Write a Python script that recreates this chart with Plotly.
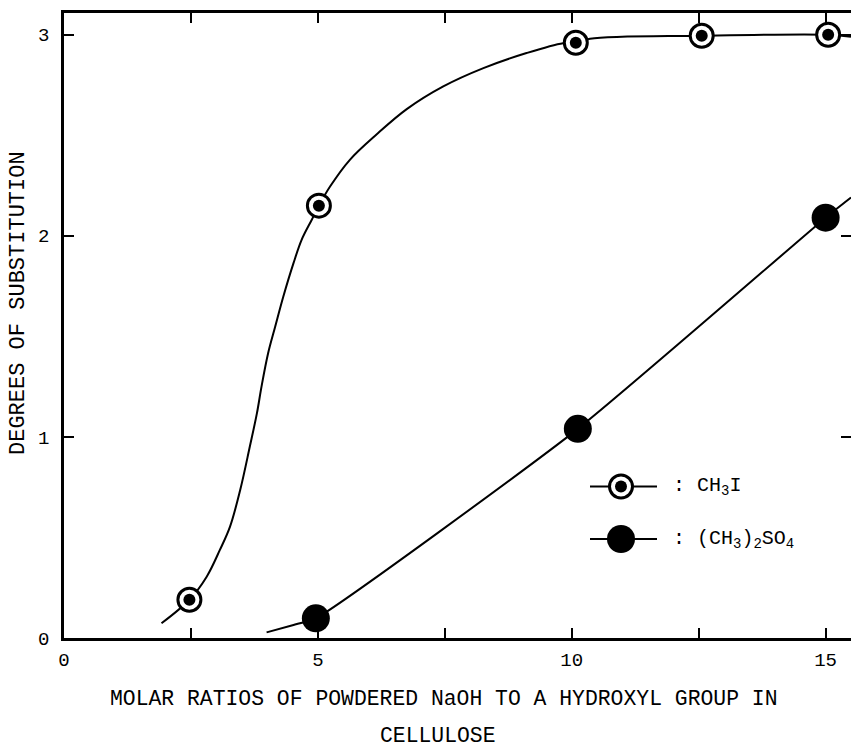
import plotly.graph_objects as go

# ---- data ----
# CH3I measured points
ch3i_ratio = [2.47, 5.02, 10.08, 12.56, 15.05]
ch3i_ds = [0.19, 2.15, 2.96, 2.995, 3.0]
# hand-drawn CH3I curve
ch3i_curve_x = [1.92, 2.47, 2.81, 3.07, 3.27, 3.47, 3.66, 3.80, 3.89, 4.02, 4.16, 4.32, 4.52,
                4.68, 4.88, 5.02, 5.24, 5.63, 6.16, 6.75, 7.47, 8.26, 9.11, 9.83, 10.08,
                10.36, 12.56, 15.05, 15.5]
ch3i_curve_y = [0.073, 0.19, 0.305, 0.438, 0.554, 0.736, 0.952, 1.118, 1.25, 1.416, 1.549, 1.698,
                1.864, 1.98, 2.08, 2.15, 2.245, 2.378, 2.505, 2.63, 2.743, 2.834, 2.909, 2.958,
                2.96, 2.98, 2.995, 3.0, 2.99]

# (CH3)2SO4 measured points
dms_ratio = [4.96, 10.12, 15.0]
dms_ds = [0.098, 1.04, 2.09]
# drawn (CH3)2SO4 line
dms_curve_x = [3.99, 4.52, 4.96, 10.12, 15.0, 15.5]
dms_curve_y = [0.028, 0.065, 0.098, 1.04, 2.09, 2.19]

x_tickvals = [0, 5, 10, 15]
x_ticktext = ["0", "5", "10", "15"]
x_minor_ticks = [2.5, 7.5, 12.5]
y_tickvals = [0, 1, 2, 3]
y_ticktext = ["0", "1", "2", "3"]

FONT = "Liberation Mono, Courier New, monospace"

fig = go.Figure()

fig.add_trace(go.Scatter(x=ch3i_curve_x, y=ch3i_curve_y, mode="lines",
                         line=dict(color="black", width=2, shape="spline", smoothing=1.0),
                         showlegend=False, hoverinfo="skip"))
fig.add_trace(go.Scatter(x=dms_curve_x, y=dms_curve_y, mode="lines",
                         line=dict(color="black", width=2, shape="spline", smoothing=0.5),
                         showlegend=False, hoverinfo="skip"))
# CH3I markers: white ring with black centre dot
fig.add_trace(go.Scatter(x=ch3i_ratio, y=ch3i_ds, mode="markers",
                         marker=dict(symbol="circle", size=23, color="white",
                                     line=dict(color="black", width=3)),
                         showlegend=False, name="CH3I"))
fig.add_trace(go.Scatter(x=ch3i_ratio, y=ch3i_ds, mode="markers",
                         marker=dict(symbol="circle", size=12, color="black"),
                         showlegend=False, hoverinfo="skip"))
# (CH3)2SO4 markers: filled
fig.add_trace(go.Scatter(x=dms_ratio, y=dms_ds, mode="markers",
                         marker=dict(symbol="circle", size=28, color="black"),
                         showlegend=False, name="(CH3)2SO4"))
# invisible trace for the right-hand tick axis
fig.add_trace(go.Scatter(x=[0], y=[0], yaxis="y2", mode="markers",
                         marker=dict(size=1, color="rgba(0,0,0,0)"),
                         showlegend=False, hoverinfo="skip"))

L, R, T, B = 64, 0, 13, 112
W, H = 851, 750
pw, ph = W - L - R, H - T - B

def px2paper(px, py):
    return (px - L) / pw, (H - B - py) / ph

shapes = []
annotations = []
# legend key (built by hand)
for py, kind in [(486.5, "ring"), (539, "filled")]:
    x0p, yp = px2paper(590, py)
    x1p, _ = px2paper(657, py)
    xc, _ = px2paper(621, py)
    shapes.append(dict(type="line", xref="paper", yref="paper", x0=x0p, x1=x1p, y0=yp, y1=yp,
                       line=dict(color="black", width=2), layer="above"))
    if kind == "ring":
        shapes.append(dict(type="circle", xref="paper", yref="paper", xsizemode="pixel",
                           ysizemode="pixel", xanchor=xc, yanchor=yp, x0=-11.5, x1=11.5,
                           y0=-11.5, y1=11.5, fillcolor="white",
                           line=dict(color="black", width=3), layer="above"))
        shapes.append(dict(type="circle", xref="paper", yref="paper", xsizemode="pixel",
                           ysizemode="pixel", xanchor=xc, yanchor=yp, x0=-6, x1=6,
                           y0=-6, y1=6, fillcolor="black",
                           line=dict(color="black", width=0), layer="above"))
    else:
        shapes.append(dict(type="circle", xref="paper", yref="paper", xsizemode="pixel",
                           ysizemode="pixel", xanchor=xc, yanchor=yp, x0=-14, x1=14,
                           y0=-14, y1=14, fillcolor="black",
                           line=dict(color="black", width=0), layer="above"))

xt, yt = px2paper(671, 486.5)
annotations.append(dict(xref="paper", yref="paper", x=xt, y=yt, xanchor="left", yanchor="middle",
                        text=": CH<sub>3</sub>I", showarrow=False,
                        font=dict(family=FONT, size=20, color="black")))
xt, yt = px2paper(671, 539)
annotations.append(dict(xref="paper", yref="paper", x=xt, y=yt, xanchor="left", yanchor="middle",
                        text=": (CH<sub>3</sub>)<sub>2</sub>SO<sub>4</sub>", showarrow=False,
                        font=dict(family=FONT, size=20, color="black")))
# axis titles
xt, yt = px2paper(444, 699)
annotations.append(dict(xref="paper", yref="paper", x=xt, y=yt, xanchor="center", yanchor="middle",
                        text="MOLAR RATIOS OF POWDERED NaOH TO A HYDROXYL GROUP IN", showarrow=False,
                        font=dict(family=FONT, size=21.4, color="black")))
xt, yt = px2paper(438, 736)
annotations.append(dict(xref="paper", yref="paper", x=xt, y=yt, xanchor="center", yanchor="middle",
                        text="CELLULOSE", showarrow=False,
                        font=dict(family=FONT, size=21.4, color="black")))
xt, yt = px2paper(18, 303)
annotations.append(dict(xref="paper", yref="paper", x=xt, y=yt, xanchor="center", yanchor="middle",
                        text="DEGREES OF SUBSTITUTION", textangle=-90, showarrow=False,
                        font=dict(family=FONT, size=22, color="black")))

fig.update_layout(
    width=W, height=H,
    margin=dict(l=L, r=R, t=T, b=B, pad=0),
    paper_bgcolor="white", plot_bgcolor="white",
    showlegend=False,
    font=dict(family=FONT, size=19, color="black"),
    xaxis=dict(range=[0, 15.5], tickvals=x_tickvals, ticktext=x_ticktext,
               ticks="inside", ticklen=10, tickwidth=2, tickcolor="black",
               minor=dict(tickvals=x_minor_ticks, ticks="inside", ticklen=10, tickwidth=2,
                          tickcolor="black", showgrid=False),
               showline=True, linewidth=2.5, linecolor="black", mirror="ticks",
               showgrid=False, zeroline=False, ticklabelstandoff=2,
               tickfont=dict(family=FONT, size=19)),
    yaxis=dict(range=[0, 3.108], tickvals=y_tickvals, ticktext=y_ticktext,
               ticks="inside", ticklen=10, tickwidth=2, tickcolor="black",
               showline=True, linewidth=2.5, linecolor="black", mirror=False,
               showgrid=False, zeroline=False, ticklabelstandoff=8,
               tickfont=dict(family=FONT, size=19)),
    yaxis2=dict(range=[0, 3.108], overlaying="y", side="right", tickvals=[1, 2, 3],
                ticks="inside", ticklen=10, tickwidth=2, tickcolor="black",
                showticklabels=False, showline=False, showgrid=False, zeroline=False),
    shapes=shapes, annotations=annotations,
)

fig.write_html("out.html", config={"displayModeBar": False},
               post_script="document.body.style.margin='0px';document.body.style.padding='0px';")
